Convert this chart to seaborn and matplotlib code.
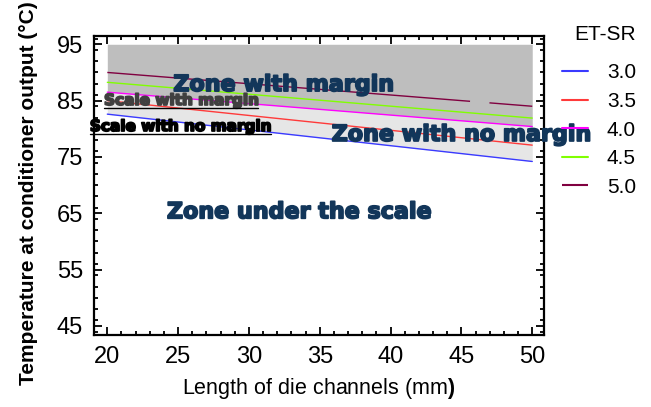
import matplotlib
matplotlib.use("Agg")
import matplotlib.pyplot as plt
import matplotlib.patheffects as pe
from matplotlib.lines import Line2D
from matplotlib.ticker import MultipleLocator
import numpy as np
import pandas as pd
import seaborn as sns

# ---- data ----
x_len = [20, 50]
et_sr_levels = ["3.0", "3.5", "4.0", "4.5", "5.0"]
t_30 = [82.6, 74.2]
t_35 = [85.0, 77.1]
t_40 = [86.5, 80.4]
t_45 = [88.25, 81.9]
t_50 = [90.0, 84.0]
zone_top = [95, 95]
line_colors = ["#3a3aff", "#ff3a3a", "#ff00ff", "#80ff00", "#800040"]
x_ticks = [20, 25, 30, 35, 40, 45, 50]
y_ticks = [45, 55, 65, 75, 85, 95]

series = [t_30, t_35, t_40, t_45, t_50]
df = pd.DataFrame({
    "L": np.concatenate([x_len] * len(series)),
    "T": np.concatenate(series),
    "ET-SR": np.repeat(et_sr_levels, len(x_len)),
})

sns.set_theme(style="ticks")
plt.rcParams["font.family"] = ["Liberation Sans", "DejaVu Sans"]
plt.rcParams["mathtext.fontset"] = "custom"
plt.rcParams["mathtext.rm"] = "Liberation Sans"
plt.rcParams["mathtext.bf"] = "Liberation Sans:bold"
for k in ("text.color", "axes.labelcolor", "xtick.color", "ytick.color",
          "axes.edgecolor"):
    plt.rcParams[k] = "black"

fig = plt.figure(figsize=(6.51, 4.07), dpi=100)
W, H = 651, 407
ax = fig.add_axes([94 / W, (H - 335) / H, 450 / W, 299 / H])

# zones
ax.fill_between(x_len, zone_top, t_40, color="#bebebe", lw=0, zorder=1)
ax.fill_between(x_len, t_40, t_30, color="#e6e6e6", lw=0, zorder=1)

palette = dict(zip(et_sr_levels, line_colors))
dashes = {lv: "" for lv in et_sr_levels}
dashes["5.0"] = (262, 14)
sns.lineplot(data=df, x="L", y="T", hue="ET-SR", style="ET-SR",
             palette=palette, dashes=dashes, lw=1.0, ax=ax, zorder=3)

ax.set_xlim(19.06, 50.83)
ax.set_ylim(43.4, 96.47)
ax.set_xticks(x_ticks)
ax.set_yticks(y_ticks)
ax.xaxis.set_minor_locator(MultipleLocator(1))
ax.yaxis.set_minor_locator(MultipleLocator(2))
ax.tick_params(which="both", direction="in", top=True, right=True,
               color="black", width=1.3)
ax.tick_params(which="major", length=6, labelsize=17, pad=8)
ax.tick_params(which="minor", length=3)
for s in ax.spines.values():
    s.set_linewidth(1.6)
    s.set_color("black")

ax.set_xlabel(r"Length of die channels (mm$\mathbf{)}$", fontsize=15.5,
              labelpad=6)
ax.set_ylabel("Temperature at conditioner output (°C)", fontsize=15,
              fontweight="bold")
ax.yaxis.set_label_coords((38 - 94) / 450, (335 - 193) / 299)

navy = "#12365a"
heavy = lambda c: [pe.withStroke(linewidth=1.3, foreground=c)]
ax.text(24.66, 86.7, "Zone with margin", fontsize=16, fontweight="bold",
        family="DejaVu Sans", color=navy, zorder=5, path_effects=heavy(navy))
ax.text(35.84, 77.84, "Zone with no margin", fontsize=16, fontweight="bold",
        family="DejaVu Sans", color=navy, zorder=5, clip_on=False,
        path_effects=heavy(navy))
ax.text(24.21, 64.12, "Zone under the scale", fontsize=16, fontweight="bold",
        family="DejaVu Sans", color=navy, zorder=5, path_effects=heavy(navy))
t1 = ax.text(19.77, 84.23, "Scale with margin", fontsize=11, fontweight="bold",
             family="DejaVu Sans", color="#404040", zorder=5, clip_on=False,
             path_effects=heavy("#404040"))
t2 = ax.text(18.77, 79.61, "Scale with no margin", fontsize=11,
             fontweight="bold", family="DejaVu Sans", color="black",
             zorder=5, clip_on=False, path_effects=heavy("black"))

# legend rebuilt from seaborn's handles
handles, labels = ax.get_legend_handles_labels()
ax.get_legend().remove()
leg = ax.legend(handles, labels, loc="upper left",
                bbox_to_anchor=(562 / W, (H - 25) / H),
                bbox_transform=fig.transFigure, frameon=False, title="ET-SR",
                fontsize=15, title_fontsize=15, handlelength=1.25,
                handletextpad=0.9, labelspacing=0.46, borderpad=0,
                borderaxespad=0, alignment="right")
leg._legend_box.sep = 14
for h in leg.legend_handles:
    h.set_linewidth(1.5)

# underlines under the two scale labels
fig.canvas.draw()
r = fig.canvas.get_renderer()
for t in (t1, t2):
    bb = t.get_window_extent(r)
    fig.add_artist(Line2D([bb.x0 / W, bb.x1 / W],
                          [(bb.y0 - 0.5) / H] * 2,
                          transform=fig.transFigure, color="black", lw=1.0,
                          zorder=6))

fig.savefig("out.png", dpi=100)
